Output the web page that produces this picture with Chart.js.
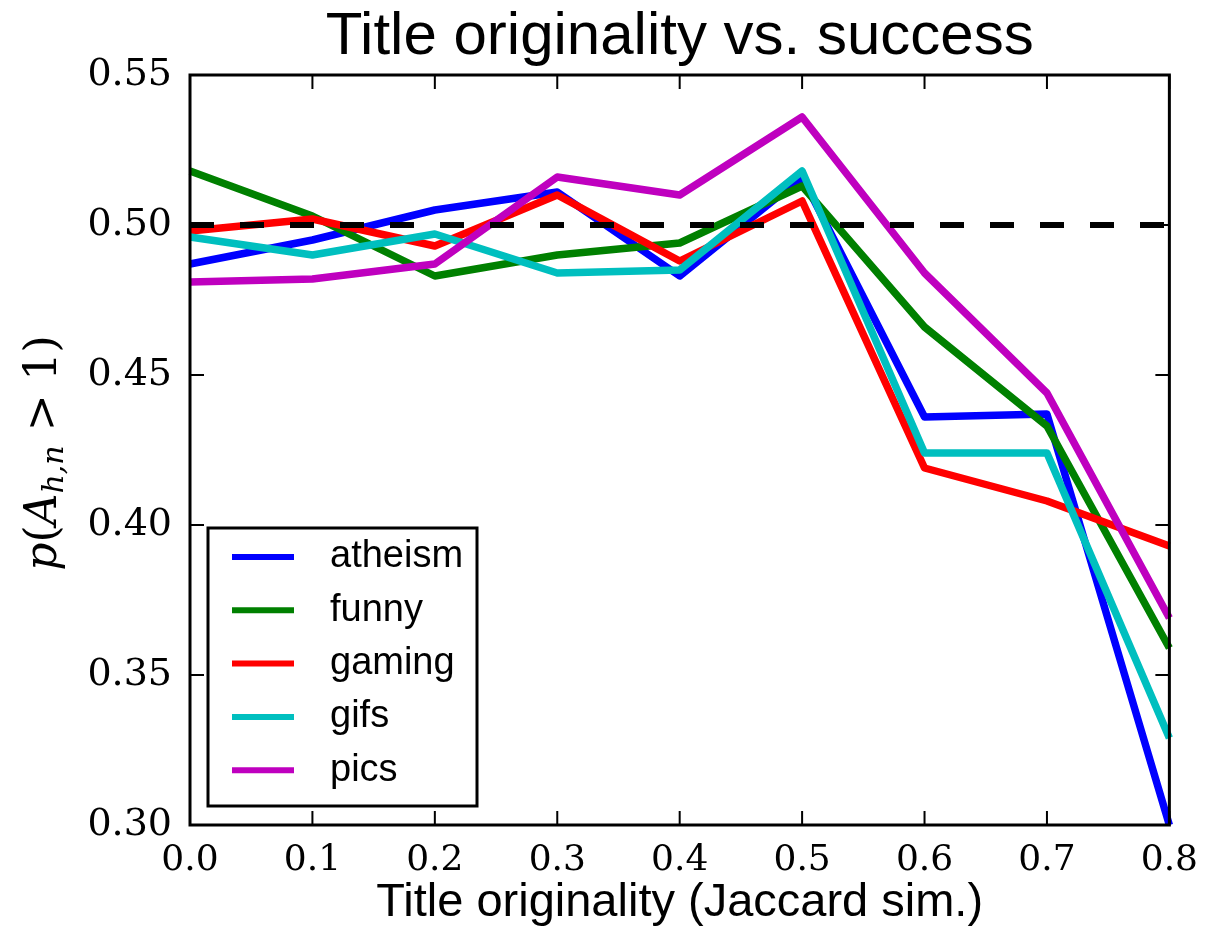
<!DOCTYPE html>
<html>
<head>
<meta charset="utf-8">
<script src="https://cdn.jsdelivr.net/npm/chart.js@4"></script>
<style>
  html, body { margin: 0; padding: 0; background: #fff; }
  #wrap { width: 1212px; height: 941px; }
</style>
</head>
<body>
<div id="wrap"><canvas id="line" width="1212" height="941"></canvas></div>
<script>
// x positions (Jaccard similarity)
const xLabels = ['0.0', '0.1', '0.2', '0.3', '0.4', '0.5', '0.6', '0.7', '0.8'];

// p(A_hn > 1) per subreddit
const atheism = [0.487, 0.495, 0.505, 0.511, 0.483, 0.516, 0.436, 0.437, 0.300];
const funny   = [0.518, 0.503, 0.483, 0.490, 0.494, 0.513, 0.466, 0.433, 0.359];
const gaming  = [0.498, 0.502, 0.493, 0.510, 0.488, 0.508, 0.419, 0.408, 0.393];
const gifs    = [0.496, 0.490, 0.497, 0.484, 0.485, 0.518, 0.424, 0.424, 0.329];
const pics    = [0.481, 0.482, 0.487, 0.516, 0.510, 0.536, 0.484, 0.444, 0.369];
const chance  = [0.5, 0.5, 0.5, 0.5, 0.5, 0.5, 0.5, 0.5, 0.5];

const seriesNames = ['atheism', 'funny', 'gaming', 'gifs', 'pics'];
const seriesColors = ['#0000ff', '#008000', '#ff0000', '#00bfbf', '#bf00bf'];
const seriesData = [atheism, funny, gaming, gifs, pics];

const yMin = 0.30, yMax = 0.55, yStep = 0.05;

// Global Options
Chart.defaults.font.family = 'Liberation Sans';
Chart.defaults.color = '#000';

let datasets = seriesNames.map((name, i) => ({
    label: name,
    data: seriesData[i],
    borderColor: seriesColors[i],
    backgroundColor: seriesColors[i],
    borderWidth: 7.5,
    pointRadius: 0,
    tension: 0,
    borderJoinStyle: 'round',
    order: -i,
}));
datasets.push({
    label: 'chance',
    data: chance,
    borderColor: '#000',
    borderWidth: 6,
    borderDash: [24, 26],
    borderCapStyle: 'butt',
    pointRadius: 0,
    order: -10,
});

// frame + inward ticks on all four sides, like matplotlib
const frameTicks = {
    id: 'frameTicks',
    afterDatasetsDraw(chart) {
        const { ctx, chartArea: a, scales: { x, y } } = chart;
        ctx.save();
        ctx.strokeStyle = '#000';
        ctx.lineWidth = 2;
        ctx.beginPath();
        const len = 14;
        y.ticks.forEach(t => {
            const py = y.getPixelForValue(t.value);
            ctx.moveTo(a.left, py); ctx.lineTo(a.left + len, py);
            ctx.moveTo(a.right, py); ctx.lineTo(a.right - len, py);
        });
        xLabels.forEach((l, i) => {
            const px = x.getPixelForValue(i);
            ctx.moveTo(px, a.bottom); ctx.lineTo(px, a.bottom - len);
            ctx.moveTo(px, a.top); ctx.lineTo(px, a.top + len);
        });
        ctx.stroke();
        ctx.lineWidth = 3;
        ctx.strokeRect(a.left, a.top, a.right - a.left, a.bottom - a.top);
        ctx.restore();
    }
};

// boxed legend in the lower left of the plot
const boxLegend = {
    id: 'boxLegend',
    afterDraw(chart) {
        const { ctx } = chart;
        const bx = 208, by = 528, bw = 269, bh = 278;
        ctx.save();
        ctx.fillStyle = '#fff';
        ctx.fillRect(bx, by, bw, bh);
        ctx.strokeStyle = '#000';
        ctx.lineWidth = 3;
        ctx.strokeRect(bx, by, bw, bh);
        ctx.font = '38px "Liberation Sans"';
        ctx.textBaseline = 'middle';
        seriesNames.forEach((name, i) => {
            const ry = by + 29 + i * 53.3;
            ctx.strokeStyle = seriesColors[i];
            ctx.lineWidth = 6;
            ctx.beginPath();
            ctx.moveTo(bx + 24, ry); ctx.lineTo(bx + 86, ry);
            ctx.stroke();
            ctx.fillStyle = '#000';
            ctx.fillText(name, bx + 122, ry);
        });
        ctx.restore();
    }
};

// y label with subscript: p(A_{h,n} > 1)
const yLabel = {
    id: 'yLabel',
    afterDraw(chart) {
        const { ctx } = chart;
        ctx.save();
        ctx.translate(45, 453);
        ctx.rotate(-Math.PI / 2);
        ctx.fillStyle = '#000';
        ctx.textBaseline = 'middle';
        const parts = [
            { t: 'p', f: 'italic 44px "DejaVu Serif"', dy: 0 },
            { t: '(', f: '44px "DejaVu Serif"', dy: 0 },
            { t: 'A', f: 'italic 44px "DejaVu Serif"', dy: 0 },
            { t: 'h,n', f: 'italic 30px "DejaVu Serif"', dy: 10 },
            { t: ' > 1)', f: '44px "DejaVu Serif"', dy: 0 },
        ];
        let total = 0;
        parts.forEach(p => { ctx.font = p.f; total += ctx.measureText(p.t).width; });
        let cx = -total / 2;
        parts.forEach(p => {
            ctx.font = p.f;
            ctx.fillText(p.t, cx, p.dy);
            cx += ctx.measureText(p.t).width;
        });
        ctx.restore();
    }
};

let chart1 = new Chart(document.getElementById('line').getContext('2d'), {
    type: 'line',
    data: {
        labels: xLabels,
        datasets: datasets,
    },
    options: {
        responsive: false,
        animation: false,
        layout: {
            padding: { left: 0, right: 34, top: 0, bottom: 0 },
        },
        plugins: {
            title: {
                display: true,
                fullSize: false,
                text: 'Title originality vs. success',
                font: { size: 60, weight: 'normal', family: 'Liberation Sans' },
                color: '#000',
                padding: { top: 1, bottom: 2 },
            },
            legend: { display: false },
            tooltip: { enabled: false },
        },
        scales: {
            x: {
                offset: false,
                grid: { display: false, drawTicks: false },
                border: { display: false },
                ticks: {
                    font: { size: 36, family: 'DejaVu Serif' },
                    color: '#000',
                    padding: 14,
                    maxRotation: 0,
                },
                title: {
                    display: true,
                    text: 'Title originality (Jaccard sim.)',
                    font: { size: 47, family: 'Liberation Sans' },
                    color: '#000',
                    padding: { top: 0, bottom: 10 },
                },
                afterFit(scale) { scale.height = 116; },
            },
            y: {
                min: yMin,
                max: yMax,
                grid: { display: false, drawTicks: false },
                border: { display: false },
                ticks: {
                    stepSize: yStep,
                    font: { size: 38, family: 'DejaVu Serif' },
                    color: '#000',
                    padding: 18,
                    callback: v => v.toFixed(2),
                },
                afterFit(scale) { scale.width = 190; },
            },
        },
    },
    plugins: [frameTicks, boxLegend, yLabel],
});
</script>
</body>
</html>
